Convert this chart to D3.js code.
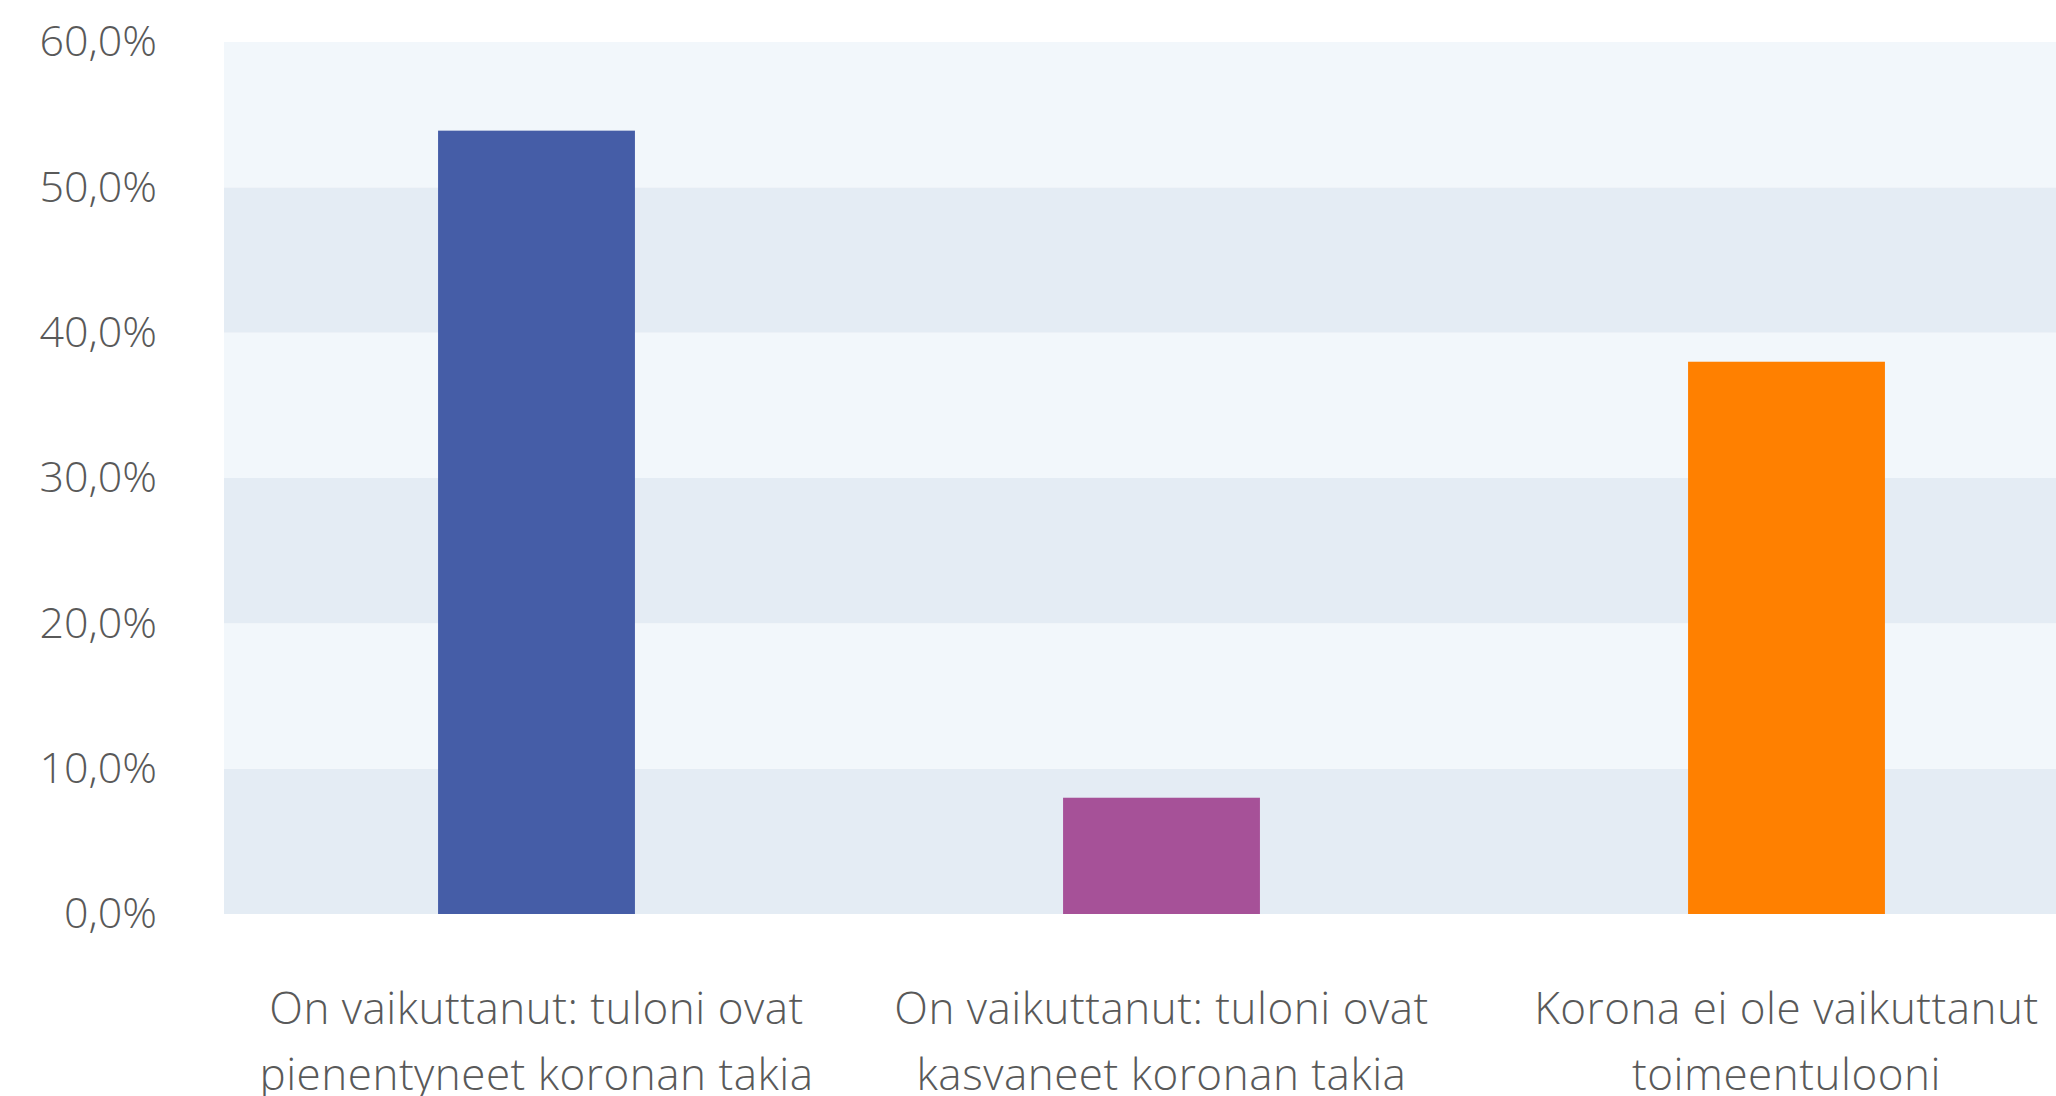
<!DOCTYPE html>
<html>
<head>
<meta charset="utf-8">
<script src="https://cdn.jsdelivr.net/npm/d3@7"></script>
<style>
  body { margin: 0; background: #fff; }
  .axis text { font-family: "Open Sans", sans-serif; font-weight: 300; fill: #595959; }
</style>
</head>
<body>
<div class="chart"></div>
<script>
var width = 2056,
  height = 1096,
  margin = { top: 42, left: 224, bottom: 182 };

// categories, each split into its two label lines
var categories = [
  'On vaikuttanut: tuloni ovat pienentyneet koronan takia',
  'On vaikuttanut: tuloni ovat kasvaneet koronan takia',
  'Korona ei ole vaikuttanut toimeentulooni'
];
var labelLines = [
  ['On vaikuttanut: tuloni ovat', 'pienentyneet koronan takia'],
  ['On vaikuttanut: tuloni ovat', 'kasvaneet koronan takia'],
  ['Korona ei ole vaikuttanut', 'toimeentulooni']
];
var values = [53.9, 8.0, 38.0];
var colors = ['#455da7', '#a65198', '#ff8000'];
var yTicks = [0, 10, 20, 30, 40, 50, 60];

var fi = d3.formatLocale({ decimal: ',', thousands: '\u00a0', grouping: [3], currency: ['', ' €'] });
var fmt = fi.format('.1f');

// plot runs off the right edge like the original
var xScale = d3.scaleBand()
  .domain(categories)
  .range([margin.left, margin.left + 3 * 625])
  .paddingInner(0.685)
  .paddingOuter(0.3425);

var yScale = d3.scaleLinear()
  .domain([0, 60])
  .range([height - margin.bottom, margin.top]);

var svg = d3.select('.chart')
  .append('svg')
  .attr('width', width)
  .attr('height', height);

// alternating background bands
var bands = d3.pairs(yTicks);
svg.selectAll('rect.band')
  .data(bands)
  .enter()
  .append('rect')
  .attr('class', 'band')
  .attr('x', margin.left)
  .attr('width', width - margin.left)
  .attr('y', function (d) { return yScale(d[1]); })
  .attr('height', function (d) { return yScale(d[0]) - yScale(d[1]); })
  .attr('fill', function (d, i) { return i % 2 === 0 ? '#e4ecf4' : '#f2f7fb'; });

//Create bars
svg.selectAll('rect.bar')
  .data(values)
  .enter()
  .append('rect')
  .attr('class', 'bar')
  .attr('x', function (d, i) { return xScale(categories[i]); })
  .attr('width', xScale.bandwidth())
  .attr('y', function (d) { return yScale(d); })
  .attr('height', function (d) { return yScale(0) - yScale(d); })
  .attr('fill', function (d, i) { return colors[i]; });

//Y axis
var yAxis = d3.axisLeft(yScale)
  .tickValues(yTicks)
  .tickSize(0)
  .tickPadding(0)
  .tickFormat(function (d) { return fmt(d) + '%'; });

svg.append('g')
  .attr('class', 'axis y')
  .attr('transform', 'translate(157,0)')
  .call(yAxis)
  .call(function (g) { g.select('.domain').remove(); })
  .selectAll('text')
  .attr('font-size', 43)
  .attr('font-family', null);

//X axis with two-line labels
var xAxis = d3.axisBottom(xScale)
  .tickSize(0)
  .tickFormat('');

var gx = svg.append('g')
  .attr('class', 'axis x')
  .attr('transform', 'translate(0,' + (height - margin.bottom) + ')')
  .call(xAxis)
  .call(function (g) { g.select('.domain').remove(); });

gx.selectAll('.tick text')
  .attr('font-size', 44)
  .attr('letter-spacing', 0.5)
  .attr('font-family', null)
  .attr('y', 0)
  .attr('dy', null)
  .each(function (d, i) {
    var t = d3.select(this);
    labelLines[i].forEach(function (line, j) {
      t.append('tspan')
        .attr('x', 0)
        .attr('y', 110 + j * 66)
        .text(line);
    });
  });
</script>
</body>
</html>
